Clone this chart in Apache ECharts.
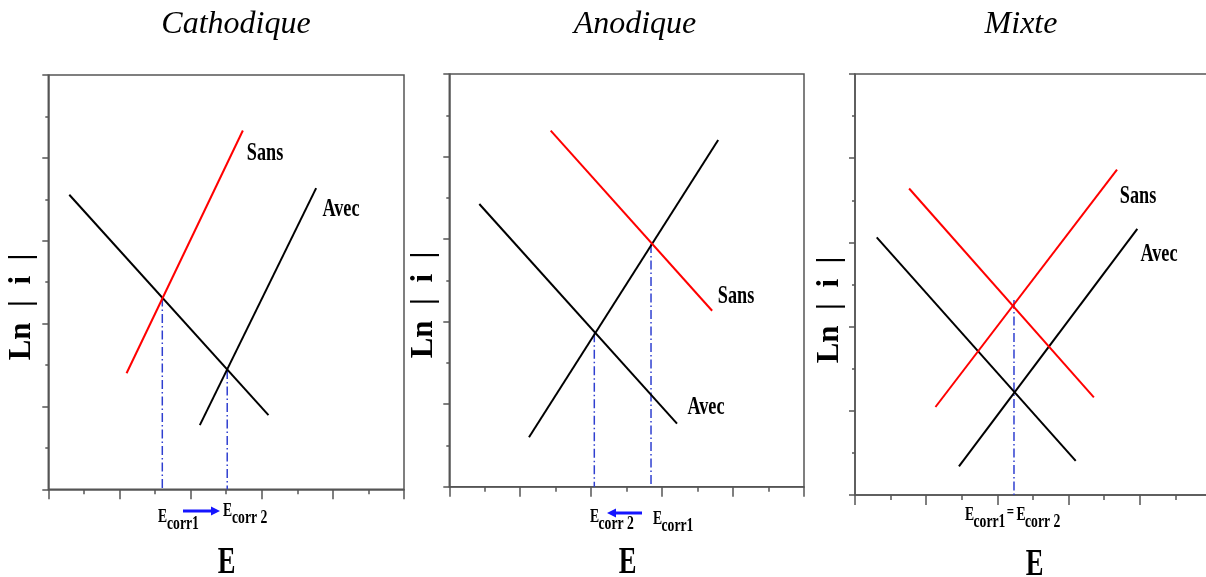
<!DOCTYPE html>
<html>
<head>
<meta charset="utf-8">
<title>Ln|i| = f(E)</title>
<script src="https://cdn.jsdelivr.net/npm/echarts@6/dist/echarts.min.js"></script>
<style>
  html, body { margin: 0; padding: 0; background: #fff; }
  #chart { width: 1206px; height: 577px; }
</style>
</head>
<body>
<div id="chart"></div>
<script>
// Panel titles
const panelTitles = ['Cathodique', 'Anodique', 'Mixte'];

// Each Tafel segment is [E, Ln|i|] at its two ends (axis units 0..10).
// Cathodique
const cathDescending = [[0.59, 7.11], [6.19, 1.79]];
const cathSansRising = [[2.20, 2.80], [5.47, 8.66]];
const cathAvecRising = [[4.26, 1.55], [7.53, 7.27]];
const cathDrops = [[3.205, 4.63], [5.03, 2.88]];   // [Ecorr, Ln|i| at crossing]

// Anodique
const anoAvecDescending = [[0.846, 6.85], [6.42, 1.53]];
const anoRising = [[2.247, 1.197], [7.58, 8.40]];
const anoSansDescending = [[2.859, 8.626], [7.41, 4.264]];
const anoDrops = [[4.088, 3.72], [5.687, 5.88]];

// Mixte
const mixAvecDescending = [[0.61, 6.12], [6.20, 0.81]];
const mixAvecRising = [[2.92, 0.68], [7.93, 6.32]];
const mixSansDescending = [[1.52, 7.28], [6.71, 2.32]];
const mixSansRising = [[2.26, 2.09], [7.36, 7.73]];
const mixDrops = [[4.466, 4.63]];

const AXIS_COLOR = '#555';
const DROP_COLOR = '#2f3fd0';
const ARROW_COLOR = '#1515ff';

const grids = [
  { left: 48.3, top: 75, width: 355.7, height: 414.3 },
  { left: 449.3, top: 74, width: 354.7, height: 412.7 },
  { left: 855, top: 74, width: 356, height: 421 }
];

function axisBase(i, isX) {
  return {
    gridIndex: i, type: 'value', min: 0, max: 10, interval: 2,
    axisLine: { show: true, onZero: false, lineStyle: { color: AXIS_COLOR, width: 1.5 } },
    axisTick: { show: true, inside: false, length: isX ? 10 : 6, lineStyle: { color: AXIS_COLOR, width: 1.5 } },
    minorTick: { show: true, splitNumber: 2, length: isX ? 5 : 3, lineStyle: { color: AXIS_COLOR, width: 1.5 } },
    axisLabel: { show: false },
    splitLine: { show: false },
    minorSplitLine: { show: false }
  };
}

function segment(grid, data, color) {
  return {
    type: 'line', xAxisIndex: grid, yAxisIndex: grid, data: data,
    showSymbol: false, symbol: 'none', silent: true, z: 3,
    lineStyle: { color: color, width: 2 }
  };
}

function drops(grid, list) {
  return list.map(d => ({
    type: 'line', xAxisIndex: grid, yAxisIndex: grid,
    data: [[d[0], d[1]], [d[0], 0]],
    showSymbol: false, symbol: 'none', silent: true, z: 2,
    lineStyle: { color: DROP_COLOR, width: 1.5, type: [9, 3, 1.5, 3] }
  }));
}

const series = [
  segment(0, cathDescending, '#000'),
  segment(0, cathSansRising, '#ff0000'),
  segment(0, cathAvecRising, '#000'),
  ...drops(0, cathDrops),
  segment(1, anoAvecDescending, '#000'),
  segment(1, anoRising, '#000'),
  segment(1, anoSansDescending, '#ff0000'),
  ...drops(1, anoDrops),
  segment(2, mixAvecDescending, '#000'),
  segment(2, mixAvecRising, '#000'),
  segment(2, mixSansDescending, '#ff0000'),
  segment(2, mixSansRising, '#ff0000'),
  ...drops(2, mixDrops)
];

// ---- text and annotations ----
const SERIF = '"Liberation Serif", "Times New Roman", serif';

function txt(text, x, y, font, opts) {
  opts = opts || {};
  return {
    type: 'text', x: x, y: y, z: 10,
    scaleX: opts.scaleX || 1,
    rotation: opts.rotation || 0,
    style: {
      text: text, font: font, fill: opts.fill || '#000',
      textAlign: opts.align || 'center', textVerticalAlign: 'middle'
    }
  };
}

function ecorr(x, y, sub, subDx, subDy) {
  return [
    txt('E', x, y, 'bold 19px ' + SERIF, { align: 'left', scaleX: 0.72 }),
    txt(sub, x + subDx, y + subDy, 'bold 18px ' + SERIF, { align: 'left', scaleX: 0.76 })
  ];
}

function arrow(xFrom, xTo, y) {
  const dir = xTo > xFrom ? 1 : -1;
  const headBase = xTo - dir * 9;
  return [
    { type: 'line', z: 10, shape: { x1: xFrom, y1: y, x2: headBase, y2: y },
      style: { stroke: ARROW_COLOR, lineWidth: 3 } },
    { type: 'polygon', z: 10, shape: { points: [[xTo, y], [headBase, y - 4.5], [headBase, y + 4.5]] },
      style: { fill: ARROW_COLOR } }
  ];
}

const titleFont = 'italic 32px ' + SERIF;
const yNameFont = 'bold 31px ' + SERIF;
const eFont = 'bold 38px ' + SERIF;
const tagFont = 'bold 26px ' + SERIF;
const yName = 'Ln  |  i  |';

const graphics = [
  txt(panelTitles[0], 236, 25, titleFont),
  txt(panelTitles[1], 635, 25, titleFont),
  txt(panelTitles[2], 1021, 25, titleFont),

  txt(yName, 22, 307, yNameFont, { rotation: Math.PI / 2 }),
  txt(yName, 424, 305, yNameFont, { rotation: Math.PI / 2 }),
  txt(yName, 830, 310, yNameFont, { rotation: Math.PI / 2 }),

  txt('E', 226.5, 563, eFont, { scaleX: 0.7 }),
  txt('E', 627.5, 563, eFont, { scaleX: 0.7 }),
  txt('E', 1034.5, 565, eFont, { scaleX: 0.7 }),

  txt('Sans', 265, 153, tagFont, { scaleX: 0.7 }),
  txt('Avec', 341, 209, tagFont, { scaleX: 0.7 }),
  txt('Sans', 736, 296, tagFont, { scaleX: 0.7 }),
  txt('Avec', 706, 407, tagFont, { scaleX: 0.7 }),
  txt('Sans', 1138, 196, tagFont, { scaleX: 0.7 }),
  txt('Avec', 1159, 254, tagFont, { scaleX: 0.7 }),

  // Ecorr1 -> Ecorr 2
  ...ecorr(158, 517.5, 'corr1', 9, 6.5),
  ...arrow(183, 220, 511),
  ...ecorr(223, 511.5, 'corr 2', 9, 7),

  // Ecorr 2 <- Ecorr1
  ...ecorr(590, 517.5, 'corr 2', 8.5, 7),
  ...arrow(642, 607, 513),
  ...ecorr(653, 519, 'corr1', 8.5, 7),

  // Ecorr1 = Ecorr 2
  ...ecorr(965, 515.5, 'corr1', 8.5, 7),
  txt('=', 1010.5, 513, 'bold 16px ' + SERIF, { scaleX: 0.8 }),
  ...ecorr(1016.5, 515.5, 'corr 2', 8.5, 7)
];

const chart = echarts.init(document.getElementById('chart'), null, { renderer: 'canvas' });
chart.setOption({
  animation: false,
  backgroundColor: '#fff',
  grid: grids.map(g => Object.assign({
    show: true, borderColor: AXIS_COLOR, borderWidth: 1.5, backgroundColor: 'transparent',
    containLabel: false, outerBoundsMode: 'none'
  }, g)),
  xAxis: [0, 1, 2].map(i => axisBase(i, true)),
  yAxis: [0, 1, 2].map(i => axisBase(i, false)),
  series: series,
  graphic: { elements: graphics }
});
</script>
</body>
</html>
